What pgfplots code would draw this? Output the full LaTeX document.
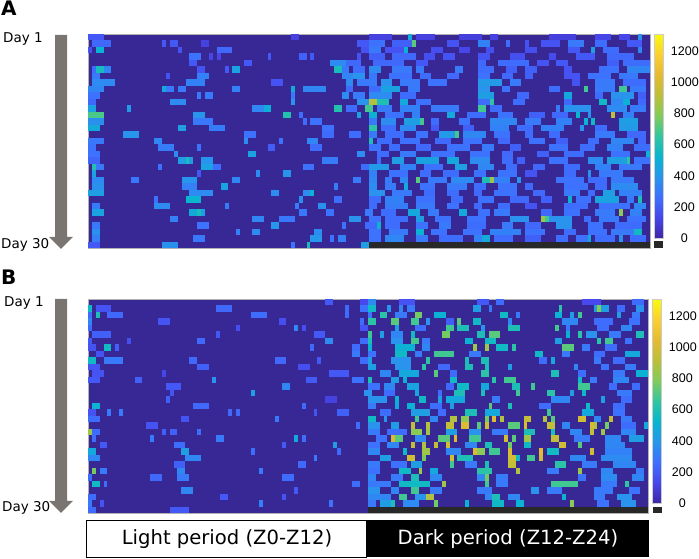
\documentclass[border=0pt]{standalone}
\usepackage{fontspec}
\usepackage{pgfplots}
\usepackage{pgfplotstable}
\pgfplotsset{compat=1.18}
\setmainfont{DejaVu Sans}
\newfontfamily\tickfont{Liberation Sans}
\definecolor{bgcell}{RGB}{56,40,150}
\definecolor{arrowgrey}{RGB}{122,117,112}
\definecolor{barblack}{RGB}{40,40,40}

% one run of equal cells: x = first column, y = row (1 = top), w = columns, v = value
\pgfdeclareplotmark{run}{%
  \pgfpathrectangle{\pgfpoint{-\halfw pt}{-3.25pt}}{\pgfpoint{2*\halfw pt}{6.5pt}}%
  \pgfusepath{fill}}

\pgfplotstableread{
x y w v
0 1 4 220
52 1 2 130
72 1 6 130
82 1 1 550
84 1 5 130
95 1 6 120
103 1 2 130
118 1 7 120
130 1 4 150
136 1 3 150
141 1 1 450
1 2 5 280
19 2 1 220
21 2 2 220
29 2 2 130
69 2 3 220
72 2 4 320
78 2 5 250
83 2 1 850
92 2 3 200
100 2 3 380
107 2 1 300
112 2 1 200
116 2 5 200
123 2 4 350
130 2 3 300
138 2 4 220
0 3 1 200
2 3 2 600
23 3 1 200
33 3 4 280
70 3 2 200
72 3 3 350
76 3 5 200
81 3 1 600
88 3 3 180
95 3 3 150
102 3 2 180
112 3 3 180
123 3 3 220
129 3 1 500
132 3 4 300
141 3 1 400
26 4 3 320
31 4 1 150
33 4 1 150
46 4 1 220
54 4 2 260
57 4 1 220
69 4 1 200
72 4 4 250
78 4 6 280
86 4 3 180
91 4 3 200
100 4 3 200
108 4 4 180
118 4 2 170
125 4 5 220
133 4 7 280
26 5 2 220
40 5 2 220
62 5 4 420
66 5 4 280
73 5 8 280
84 5 3 220
100 5 2 280
105 5 8 300
115 5 3 200
120 5 3 220
133 5 3 250
137 5 7 300
1 6 1 300
2 6 2 680
4 6 2 400
28 6 2 200
35 6 1 220
37 6 2 520
63 6 2 680
65 6 2 350
68 6 3 300
72 6 3 420
78 6 5 350
84 6 2 350
94 6 2 350
100 6 4 300
107 6 3 250
112 6 3 250
122 6 2 200
131 6 5 320
138 6 6 400
1 7 2 350
20 7 1 200
28 7 3 380
65 7 3 400
68 7 3 450
72 7 2 350
77 7 6 320
85 7 3 300
92 7 3 280
100 7 3 320
106 7 3 280
112 7 2 250
122 7 4 200
128 7 6 320
136 7 5 350
1 8 6 420
25 8 5 380
47 8 3 200
66 8 2 420
69 8 5 350
75 8 3 450
80 8 5 350
87 8 5 320
100 8 6 480
108 8 3 350
124 8 2 200
130 8 5 350
137 8 6 300
0 9 4 400
19 9 1 550
20 9 2 350
23 9 2 350
37 9 2 380
52 9 1 550
55 9 6 400
66 9 2 300
72 9 3 300
75 9 5 520
82 9 3 350
100 9 3 450
106 9 2 320
118 9 3 300
127 9 1 800
130 9 5 350
136 9 2 800
139 9 4 350
0 10 3 320
28 10 1 350
30 10 2 350
52 10 1 350
65 10 2 420
68 10 3 350
72 10 6 420
80 10 4 300
100 10 4 500
110 10 3 280
122 10 2 550
130 10 2 300
134 10 6 450
141 10 2 250
0 11 2 280
21 11 4 420
52 11 1 450
69 11 3 450
72 11 2 1050
74 11 3 700
80 11 2 550
84 11 4 320
100 11 3 300
103 11 1 750
109 11 3 300
122 11 2 280
131 11 2 650
134 11 3 400
137 11 2 600
141 11 2 280
0 12 2 520
10 12 1 480
42 12 3 400
45 12 2 580
63 12 2 720
66 12 3 300
71 12 2 800
74 12 4 350
80 12 5 380
88 12 7 350
100 12 2 800
103 12 3 300
120 12 1 350
122 12 7 450
133 12 5 420
139 12 4 350
0 13 4 820
27 13 3 460
50 13 2 720
54 13 1 300
69 13 1 520
72 13 2 600
76 13 5 320
83 13 2 380
92 13 2 550
97 13 5 300
105 13 4 320
113 13 4 250
119 13 4 280
125 13 1 620
128 13 1 450
134 13 1 1100
137 13 3 380
0 14 4 440
27 14 5 340
55 14 1 300
57 14 3 320
72 14 2 350
75 14 4 420
81 14 4 500
85 14 1 800
88 14 2 300
95 14 3 320
103 14 7 400
112 14 4 350
120 14 4 380
127 14 1 600
129 14 1 650
136 14 5 500
0 15 3 560
23 15 2 500
31 15 4 360
60 15 3 320
72 15 2 750
75 15 4 300
80 15 4 420
88 15 2 220
96 15 3 250
103 15 5 380
110 15 4 300
116 15 6 380
126 15 1 450
130 15 3 300
136 15 5 480
9 16 4 460
40 16 3 320
60 16 3 300
67 16 3 300
72 16 2 350
76 16 5 300
84 16 3 320
90 16 4 480
94 16 1 800
96 16 6 400
104 16 4 320
112 16 2 300
118 16 3 300
130 16 5 350
138 16 5 280
0 17 4 340
17 17 2 400
40 17 1 420
49 17 1 320
56 17 3 400
72 17 1 700
74 17 4 300
80 17 5 320
89 17 4 280
96 17 5 320
105 17 3 280
113 17 4 320
120 17 3 250
128 17 3 300
134 17 6 400
141 17 2 280
0 18 2 320
18 18 4 360
28 18 1 320
46 18 2 240
57 18 3 300
72 18 3 320
77 18 3 300
84 18 4 280
92 18 6 320
101 18 3 350
108 18 3 250
118 18 5 320
126 18 4 300
133 18 4 380
140 18 4 300
0 19 3 320
22 19 1 420
41 19 2 520
69 19 2 420
74 19 3 300
80 19 4 350
88 19 6 320
98 19 5 320
106 19 3 280
115 19 3 250
122 19 5 300
134 19 5 320
143 19 1 600
0 20 3 270
23 20 2 500
25 20 1 680
26 20 1 480
29 20 3 460
60 20 4 360
74 20 1 300
78 20 3 500
84 20 6 520
92 20 3 550
98 20 5 420
106 20 3 300
110 20 2 250
118 20 5 320
128 20 4 420
133 20 5 500
138 20 1 750
140 20 4 320
1 21 1 720
2 21 2 350
18 21 1 320
29 21 3 520
32 21 2 300
55 21 3 320
70 21 2 300
72 21 5 480
80 21 4 380
86 21 5 320
94 21 3 500
100 21 4 400
107 21 3 300
114 21 3 280
122 21 4 300
130 21 4 380
136 21 6 350
1 22 1 520
28 22 1 220
43 22 1 420
50 22 2 460
72 22 2 380
77 22 5 320
85 22 3 300
91 22 4 300
99 22 3 320
105 22 5 320
112 22 3 200
122 22 3 300
128 22 1 450
131 22 6 350
1 23 3 420
11 23 2 340
24 23 4 460
37 23 2 400
68 23 2 350
72 23 2 400
76 23 2 350
80 23 2 400
84 23 1 850
87 23 5 350
93 23 6 420
101 23 2 700
103 23 1 1000
104 23 4 380
110 23 1 450
120 23 7 320
128 23 5 300
134 23 6 350
1 24 3 440
24 24 4 370
34 24 2 520
63 24 1 360
72 24 2 420
76 24 3 350
81 24 1 550
85 24 4 320
92 24 5 350
99 24 3 300
105 24 5 320
112 24 2 280
122 24 6 320
130 24 3 300
134 24 7 420
0 25 4 500
26 25 6 420
47 25 2 420
55 25 2 420
57 25 1 620
72 25 4 450
78 25 5 350
86 25 3 300
92 25 3 300
99 25 2 280
104 25 6 320
114 25 3 280
122 25 4 350
128 25 2 300
132 25 3 500
136 25 6 380
17 26 1 320
25 26 4 620
54 26 1 440
63 26 2 300
72 26 3 300
76 26 5 380
84 26 5 320
93 26 3 300
100 26 4 320
108 26 5 280
116 26 3 250
123 26 1 600
125 26 4 320
130 26 6 520
138 26 2 350
141 26 1 700
1 27 2 360
17 27 4 420
35 27 1 360
53 27 1 360
59 27 2 440
72 27 2 300
76 27 6 360
84 27 5 350
92 27 3 320
99 27 2 280
105 27 3 300
112 27 3 200
122 27 6 300
131 27 8 320
140 27 3 400
1 28 3 520
26 28 2 560
28 28 1 680
29 28 1 500
54 28 2 340
61 28 2 320
71 28 2 350
75 28 4 300
82 28 3 550
87 28 3 350
95 28 2 550
100 28 3 320
104 28 4 350
116 28 3 280
122 28 4 320
130 28 5 350
136 28 1 950
139 28 3 380
21 29 2 370
42 29 3 400
49 29 4 340
67 29 3 450
72 29 3 320
76 29 6 300
84 29 2 500
89 29 4 320
97 29 5 320
108 29 5 450
116 29 1 1000
117 29 1 800
118 29 6 450
127 29 2 300
131 29 5 350
138 29 5 320
1 30 2 340
28 30 3 320
47 30 2 470
65 30 1 320
71 30 3 280
74 30 1 600
76 30 4 300
84 30 3 320
90 30 3 350
97 30 5 300
106 30 3 350
112 30 4 280
120 30 4 450
128 30 4 320
135 30 7 300
1 31 2 440
38 31 1 370
42 31 2 420
58 31 2 420
72 31 3 320
77 31 5 350
84 31 2 600
88 31 4 320
96 31 5 320
103 31 8 380
112 31 5 320
122 31 3 300
128 31 5 320
134 31 6 350
140 31 2 650
1 32 2 370
27 32 3 340
57 32 3 470
62 32 1 320
64 32 2 370
72 32 3 320
76 32 5 400
84 32 3 350
90 32 6 300
99 32 2 380
101 32 2 560
104 32 5 300
112 32 4 250
120 32 3 300
125 32 3 320
128 32 1 560
130 32 5 300
136 32 1 450
139 32 4 300
0 33 3 220
19 33 4 440
52 33 1 320
56 33 1 680
70 33 2 500
}\tablea

\pgfplotstableread{
x y w v
61 1 2 220
70 1 2 160
72 1 2 420
80 1 4 200
100 1 3 220
105 1 2 300
127 1 5 160
140 1 3 300
0 2 1 650
2 2 4 200
33 2 4 280
66 2 1 280
70 2 2 320
72 2 2 650
77 2 1 450
80 2 1 400
82 2 2 350
99 2 2 500
103 2 1 350
121 2 1 750
130 2 1 500
131 2 1 950
132 2 2 500
136 2 2 300
141 2 2 450
0 3 1 300
2 3 1 700
5 3 4 280
42 3 4 300
66 3 1 300
72 3 1 350
75 3 2 750
79 3 3 350
84 3 2 900
89 3 3 600
106 3 2 650
110 3 1 350
120 3 2 600
124 3 1 500
126 3 1 800
136 3 1 500
140 3 2 350
0 4 1 400
18 4 3 200
49 4 2 180
70 4 1 300
72 4 2 750
78 4 2 850
83 4 2 800
87 4 1 450
92 4 2 250
95 4 1 850
99 4 2 650
108 4 1 400
122 4 4 400
130 4 5 300
139 4 3 320
0 5 1 300
38 5 1 180
53 5 1 420
55 5 1 180
70 5 2 200
79 5 1 500
84 5 3 300
92 5 2 800
95 5 3 700
101 5 1 450
108 5 3 700
120 5 1 800
123 5 1 350
131 5 3 300
137 5 3 400
1 6 5 250
33 6 1 220
58 6 3 220
72 6 1 800
75 6 1 500
78 6 3 400
83 6 1 650
91 6 2 900
100 6 2 700
103 6 3 850
123 6 1 600
126 6 1 750
128 6 3 450
134 6 3 350
141 6 2 700
0 7 1 220
10 7 1 180
28 7 2 280
61 7 2 420
70 7 2 300
72 7 1 700
78 7 3 450
83 7 2 800
86 7 2 350
97 7 2 600
102 7 3 650
120 7 2 500
131 7 1 750
133 7 2 800
138 7 2 320
0 8 2 200
4 8 2 650
7 8 1 250
57 8 1 280
68 8 2 300
72 8 1 600
79 8 5 600
86 8 2 400
99 8 1 1000
102 8 1 1000
105 8 3 650
109 8 1 750
122 8 3 850
127 8 2 350
133 8 3 300
2 9 2 200
68 9 2 350
72 9 2 320
79 9 3 650
84 9 2 350
89 9 5 800
98 9 3 350
115 9 2 650
122 9 2 350
130 9 3 300
138 9 4 550
0 10 2 650
4 10 5 350
26 10 2 280
48 10 3 280
59 10 1 220
70 10 2 300
72 10 1 500
78 10 5 450
87 10 1 750
97 10 1 700
101 10 2 700
116 10 2 300
119 10 1 550
130 10 2 350
135 10 3 300
0 11 3 200
28 11 3 250
54 11 3 180
72 11 2 500
79 11 4 450
86 11 1 750
90 11 3 280
97 11 2 700
102 11 1 700
108 11 1 500
125 11 1 400
132 11 2 320
138 11 3 350
1 12 3 200
19 12 1 150
62 12 5 220
75 12 3 400
80 12 5 550
89 12 1 850
93 12 2 300
101 12 2 750
119 12 2 700
126 12 2 300
135 12 3 350
141 12 3 600
0 13 3 220
12 13 2 250
32 13 1 450
56 13 3 230
68 13 3 320
72 13 1 700
78 13 2 500
81 13 1 600
93 13 2 650
104 13 1 750
107 13 3 800
126 13 1 650
129 13 2 350
135 13 4 400
20 14 4 220
50 14 2 400
72 14 3 320
76 14 3 400
82 14 3 520
92 14 2 280
95 14 3 650
101 14 2 550
109 14 2 700
114 14 1 800
126 14 3 800
134 14 2 300
140 14 2 300
21 15 1 200
42 15 1 500
71 15 2 450
76 15 3 300
84 15 1 550
90 15 1 300
94 15 3 700
101 15 1 700
110 15 1 800
118 15 2 750
124 15 1 500
127 15 1 650
136 15 4 350
20 16 1 250
61 16 3 130
72 16 5 450
79 16 1 600
85 16 2 650
90 16 1 500
92 16 5 550
104 16 2 350
119 16 5 400
132 16 1 500
137 16 3 300
1 17 2 600
27 17 4 280
55 17 1 280
72 17 2 350
79 17 1 550
82 17 2 600
88 17 3 300
93 17 1 500
103 17 1 850
108 17 1 700
116 17 3 300
128 17 1 650
135 17 3 300
0 18 2 200
5 18 1 350
8 18 1 350
36 18 1 280
38 18 1 280
58 18 1 200
64 18 3 250
75 18 3 300
83 18 5 500
90 18 2 300
97 18 3 700
102 18 4 550
118 18 1 800
127 18 3 550
135 18 3 320
0 19 3 300
24 19 2 200
48 19 1 350
72 19 2 650
76 19 1 450
84 19 1 800
88 19 2 400
93 19 2 1050
96 19 2 950
102 19 1 900
104 19 1 1200
106 19 1 1050
112 19 2 1100
117 19 1 1050
119 19 1 850
126 19 2 1150
130 19 2 400
134 19 1 1100
137 19 3 350
15 20 3 200
69 20 1 300
72 20 3 450
78 20 2 500
83 20 1 1100
87 20 1 1050
92 20 2 1100
96 20 2 1200
100 20 1 850
102 20 1 1150
108 20 3 850
112 20 1 1200
118 20 2 1100
122 20 2 400
129 20 1 1150
130 20 1 1050
133 20 1 900
137 20 4 300
143 20 1 550
0 21 1 1000
1 21 2 300
19 21 1 250
21 21 2 250
28 21 1 300
72 21 3 350
77 21 5 300
83 21 3 950
87 21 1 1000
92 21 3 500
98 21 3 450
104 21 4 350
112 21 3 700
119 21 1 700
124 21 3 400
129 21 1 1100
132 21 1 1000
137 21 4 400
1 22 1 300
16 22 1 350
33 22 2 350
53 22 1 550
55 22 1 300
74 22 3 320
78 22 1 1200
79 22 2 850
84 22 3 400
90 22 3 850
94 22 1 1200
98 22 3 800
107 22 1 1150
109 22 1 850
112 22 2 1000
119 22 2 1100
125 22 4 350
133 22 4 400
139 22 4 500
3 23 2 220
22 23 3 300
50 23 1 220
63 23 1 500
72 23 3 320
77 23 3 400
83 23 1 1100
86 23 1 1050
89 23 1 1100
92 23 1 1150
97 23 3 400
102 23 2 700
108 23 1 900
112 23 2 650
121 23 2 1150
126 23 1 850
133 23 5 400
0 24 2 550
24 24 2 500
42 24 1 300
64 24 1 280
72 24 3 400
81 24 1 650
86 24 2 1000
92 24 4 400
99 24 1 1200
100 24 2 950
103 24 3 800
108 24 1 1200
116 24 1 1250
118 24 3 650
129 24 1 1150
133 24 7 380
0 25 3 400
25 25 4 400
58 25 1 350
75 25 3 500
82 25 2 1150
86 25 1 900
93 25 1 1150
95 25 4 700
108 25 2 1150
110 25 1 650
113 25 2 800
116 25 1 1150
124 25 4 400
132 25 8 420
22 26 3 250
54 26 2 280
72 26 3 350
78 26 4 320
83 26 3 500
93 26 1 800
97 26 3 350
102 26 1 700
108 26 2 1100
120 26 3 750
127 26 4 350
135 26 6 400
1 27 1 900
3 27 2 350
23 27 2 400
44 27 1 350
72 27 3 320
80 27 3 650
85 27 1 1000
88 27 2 550
100 27 4 750
110 27 1 1050
118 27 3 350
126 27 1 1000
132 27 3 400
141 27 2 350
0 28 1 300
16 28 3 280
23 28 3 350
50 28 3 300
72 28 2 400
78 28 3 350
83 28 2 700
88 28 3 400
100 28 2 400
102 28 1 900
105 28 3 350
126 28 2 320
132 28 4 420
140 28 3 400
1 29 2 650
4 29 1 300
68 29 2 300
72 29 6 350
80 29 8 650
91 29 1 1000
102 29 1 800
105 29 3 350
119 29 7 800
132 29 4 350
138 29 1 750
24 30 3 400
53 30 1 220
72 30 3 450
78 30 2 400
83 30 2 800
88 30 3 350
100 30 4 350
114 30 2 450
118 30 4 350
130 30 5 350
139 30 3 320
0 31 2 300
34 31 2 220
50 31 1 200
72 31 6 400
80 31 2 800
84 31 3 450
87 31 2 1050
102 31 2 400
104 31 2 700
108 31 3 400
122 31 1 600
130 31 3 350
136 31 4 450
0 32 1 350
3 32 1 200
44 32 1 380
62 32 1 320
72 32 2 350
75 32 3 500
78 32 1 700
81 32 4 420
89 32 1 900
97 32 1 600
104 32 3 650
110 32 2 600
124 32 1 950
131 32 3 320
137 32 4 450
0 33 2 300
21 33 5 220
}\tableb

\pgfplotsset{
  colormap={parula}{
    rgb255=(62,38,168) rgb255=(71,71,235) rgb255=(62,111,255) rgb255=(39,150,235)
    rgb255=(8,181,208) rgb255=(49,198,159) rgb255=(129,204,89) rgb255=(189,191,57)
    rgb255=(229,186,49) rgb255=(252,207,48) rgb255=(249,251,14)},
  heat/.style={
    scale only axis, height=214pt, anchor=south west,
    xmin=0, xmax=144, ymin=0, ymax=33, y dir=reverse,
    xtick=\empty, ytick=\empty,
    axis line style={draw=gray!60, line width=0.5pt},
    axis background/.style={fill=bgcell},
    colormap name=parula, point meta min=0, point meta max=1310,
    colorbar,
    colorbar style={
      scale only axis, width=9.5pt, height=204pt,
      at={(1.0075,1)}, anchor=north west,
      ytick={0,200,...,1200}, major tick length=0pt,
      axis line style={draw=gray!40, line width=0.5pt},
      yticklabel style={font=\tickfont\fontsize{12.5}{12.5}\selectfont,
        /pgf/number format/assume math mode=true, /pgf/number format/1000 sep={},
        text width=27pt, align=center, inner sep=0pt, xshift=7pt},
    },
  },
  runs/.style={
    scatter, only marks, mark=run, point meta=explicit,
    scatter/use mapped color={draw=none, fill=mapped color},
    visualization depends on={1.95*\thisrow{w} \as \halfw},
  },
}

\begin{document}
\begin{tikzpicture}
  \path[use as bounding box] (0,0) rectangle (699pt,559pt);

  % my readings came out a bit high against the colour bar, hence 0.85
  \begin{axis}[heat, width=562pt, at={(88pt,311pt)}]
    \addplot[runs] table[x expr=\thisrow{x}+0.5*\thisrow{w}, y expr=\thisrow{y}-0.5, meta expr=0.85*\thisrow{v}] {\tablea};
    \addplot[fill=barblack, draw=none] coordinates {(72,32) (144,32) (144,33) (72,33)} --cycle;
  \end{axis}
  \begin{axis}[heat, width=560pt, at={(88pt,46pt)}]
    \addplot[runs] table[x expr=\thisrow{x}+0.5*\thisrow{w}, y expr=\thisrow{y}-0.5, meta expr=0.85*\thisrow{v}] {\tableb};
    \addplot[fill=barblack, draw=none] coordinates {(72,32) (144,32) (144,33) (72,33)} --cycle;
  \end{axis}

  % little black keys under the colour bars
  \fill[barblack] (654pt,311pt) rectangle (663pt,318pt);
  \fill[barblack] (653pt,46pt) rectangle (662pt,52pt);

  % day arrows
  \fill[arrowgrey] (55pt,524pt) -- (67pt,524pt) -- (67pt,322pt) -- (73pt,322pt) -- (61pt,310pt) -- (49pt,322pt) -- (55pt,322pt) -- cycle;
  \fill[arrowgrey] (55pt,260pt) -- (67pt,260pt) -- (67pt,58pt) -- (73pt,58pt) -- (61pt,46pt) -- (49pt,58pt) -- (55pt,58pt) -- cycle;

  \node[anchor=base west, inner sep=0pt, font=\bfseries\fontsize{20}{20}\selectfont] at (1pt,543pt) {A};
  \node[anchor=base west, inner sep=0pt, font=\bfseries\fontsize{20}{20}\selectfont] at (1pt,274pt) {B};
  \node[anchor=base west, inner sep=0pt, font=\fontsize{13.5}{13.5}\selectfont] at (3pt,516pt) {Day 1};
  \node[anchor=base west, inner sep=0pt, font=\fontsize{13.5}{13.5}\selectfont] at (1pt,310pt) {Day 30};
  \node[anchor=base west, inner sep=0pt, font=\fontsize{13.5}{13.5}\selectfont] at (4pt,252pt) {Day 1};
  \node[anchor=base west, inner sep=0pt, font=\fontsize{13.5}{13.5}\selectfont] at (2pt,47pt) {Day 30};

  % period strip
  \draw[draw=black, line width=0.7pt, fill=white] (86pt,2pt) rectangle (366pt,39pt);
  \fill[black] (366pt,2pt) rectangle (649pt,39pt);
  \node[font=\fontsize{19.6}{20}\selectfont] at (227pt,20pt) {Light period (Z0-Z12)};
  \node[font=\fontsize{19.6}{20}\selectfont, text=white] at (508pt,20pt) {Dark period (Z12-Z24)};
\end{tikzpicture}
\end{document}
